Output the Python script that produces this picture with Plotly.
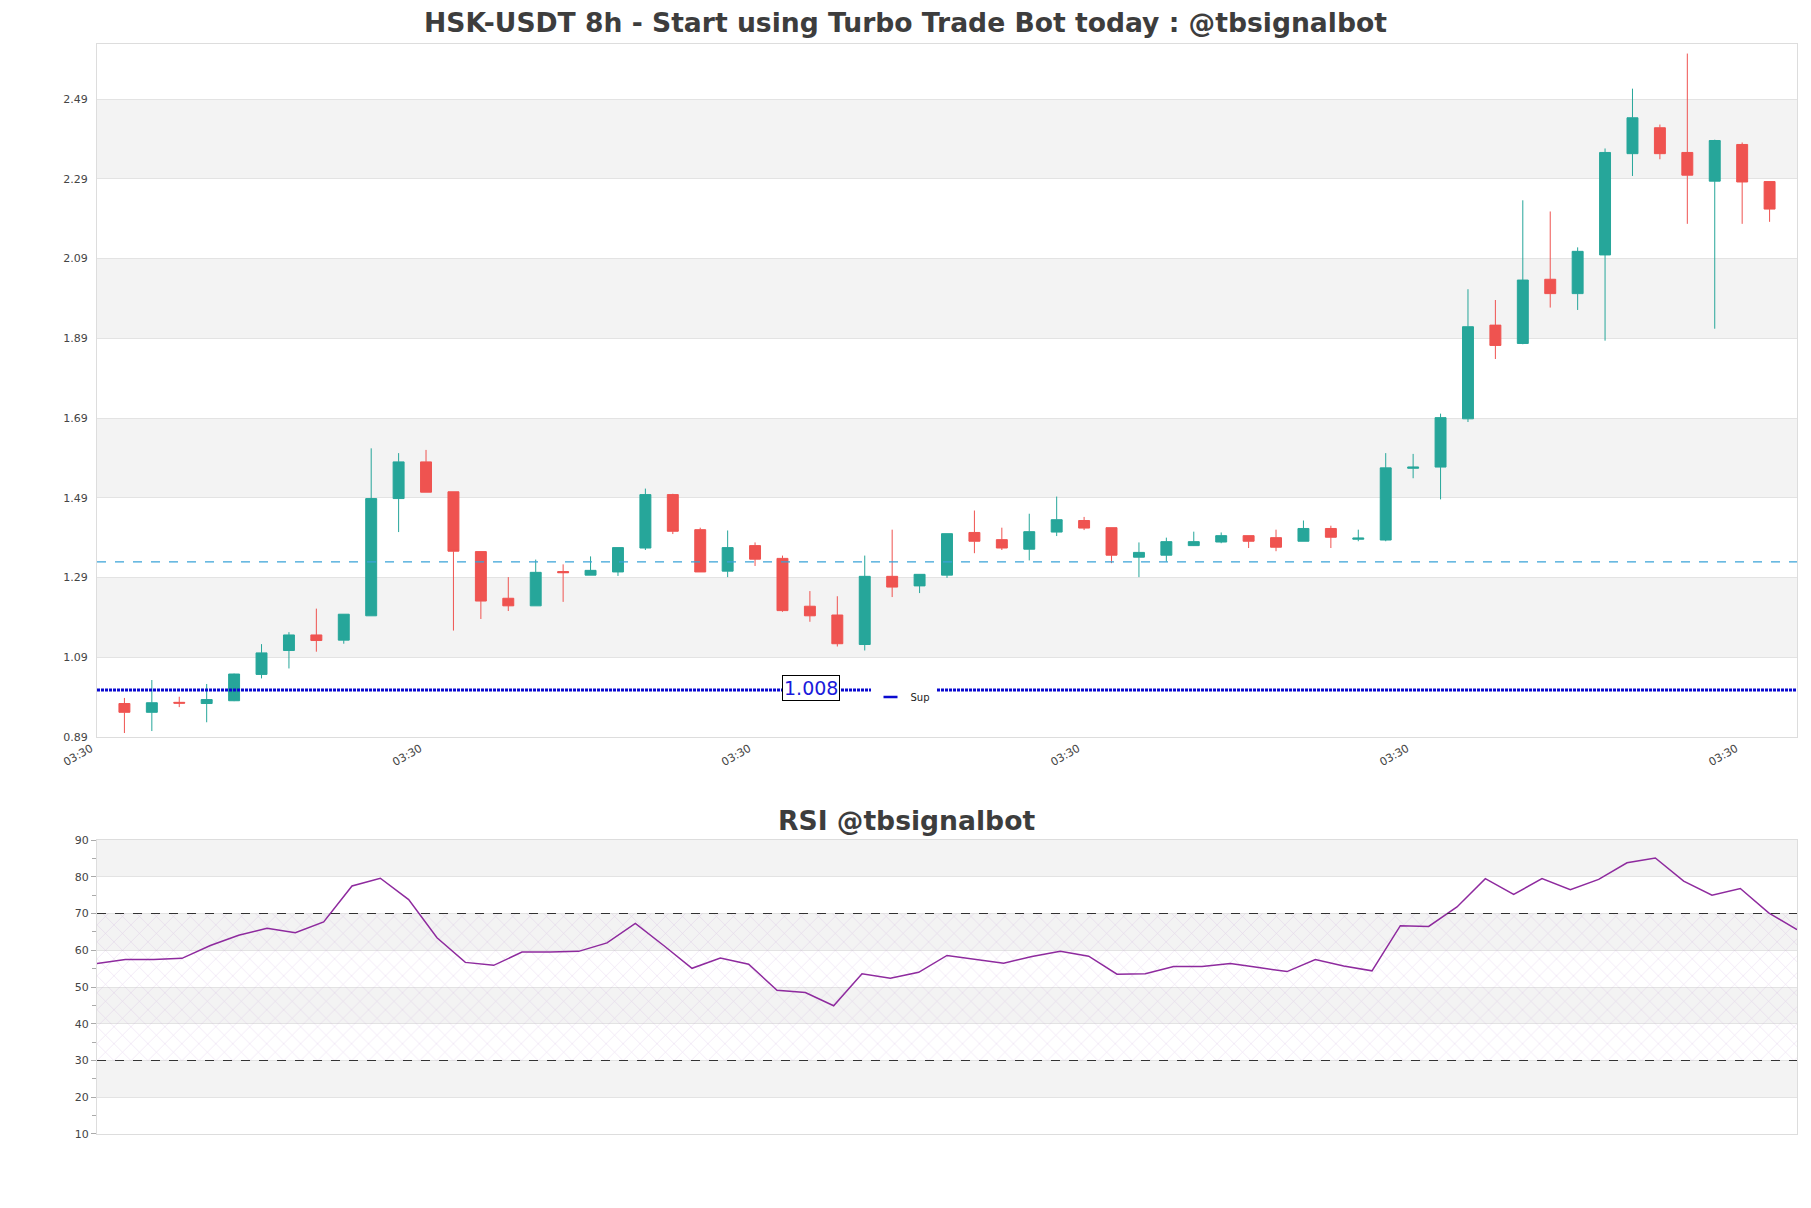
import plotly.graph_objects as go
from datetime import datetime, timedelta

# ---------------- data ----------------
start = datetime(2025, 1, 10, 11, 30)
step = timedelta(hours=8)

opens = [0.974, 0.952, 0.977, 0.974, 0.981, 1.047, 1.107, 1.146, 1.133, 1.194,
         1.488, 1.580, 1.505, 1.355, 1.238, 1.219, 1.305, 1.296, 1.304, 1.364,
         1.498, 1.410, 1.306, 1.370, 1.338, 1.218, 1.196, 1.122, 1.293, 1.269,
         1.296, 1.403, 1.385, 1.361, 1.404, 1.433, 1.415, 1.341, 1.346, 1.370,
         1.379, 1.395, 1.390, 1.381, 1.413, 1.386, 1.384, 1.564, 1.567, 1.688,
         1.923, 1.877, 2.038, 2.002, 2.099, 2.353, 2.418, 2.356, 2.284, 2.376,
         2.283]
highs = [0.988, 1.033, 0.991, 1.023, 1.049, 1.123, 1.153, 1.212, 1.198, 1.614,
         1.602, 1.610, 1.505, 1.355, 1.291, 1.335, 1.323, 1.343, 1.365, 1.513,
         1.500, 1.415, 1.408, 1.378, 1.345, 1.256, 1.243, 1.345, 1.410, 1.298,
         1.400, 1.458, 1.415, 1.450, 1.493, 1.442, 1.415, 1.378, 1.390, 1.405,
         1.403, 1.395, 1.410, 1.433, 1.420, 1.410, 1.602, 1.600, 1.701, 2.013,
         1.986, 2.236, 2.208, 2.118, 2.366, 2.516, 2.426, 2.604, 2.388, 2.381,
         2.283]
lows = [0.900, 0.905, 0.965, 0.927, 0.980, 1.037, 1.062, 1.104, 1.124, 1.194,
        1.404, 1.504, 1.157, 1.186, 1.206, 1.219, 1.229, 1.296, 1.294, 1.359,
        1.399, 1.304, 1.291, 1.319, 1.204, 1.179, 1.117, 1.107, 1.241, 1.251,
        1.289, 1.351, 1.359, 1.333, 1.394, 1.409, 1.326, 1.291, 1.330, 1.369,
        1.376, 1.364, 1.356, 1.381, 1.364, 1.381, 1.381, 1.539, 1.486, 1.680,
        1.838, 1.875, 1.967, 1.961, 1.884, 2.297, 2.339, 2.177, 1.914, 2.177,
        2.182]
closes = [0.952, 0.976, 0.975, 0.984, 1.048, 1.101, 1.146, 1.132, 1.198, 1.488,
          1.580, 1.504, 1.356, 1.231, 1.219, 1.303, 1.302, 1.308, 1.365, 1.498,
          1.406, 1.304, 1.365, 1.336, 1.207, 1.194, 1.124, 1.293, 1.266, 1.298,
          1.400, 1.381, 1.364, 1.405, 1.435, 1.414, 1.346, 1.353, 1.380, 1.380,
          1.395, 1.381, 1.366, 1.413, 1.391, 1.389, 1.565, 1.567, 1.691, 1.919,
          1.872, 2.036, 2.002, 2.108, 2.356, 2.443, 2.353, 2.299, 2.386, 2.282,
          2.214]
rsi = [56.4, 57.5, 57.5, 57.8, 61.3, 64.1, 66.0, 64.8, 67.7, 77.5,
       79.6, 73.8, 63.4, 56.7, 55.9, 59.5, 59.5, 59.7, 62.0, 67.3,
       61.3, 55.1, 57.9, 56.2, 49.1, 48.5, 44.9, 53.6, 52.4, 54.0,
       58.6, 57.5, 56.5, 58.3, 59.7, 58.4, 53.5, 53.6, 55.6, 55.6,
       56.4, 55.3, 54.2, 57.5, 55.7, 54.4, 66.7, 66.5, 71.8, 79.5,
       75.2, 79.5, 76.5, 79.3, 83.8, 85.1, 78.8, 75.0, 76.8, 70.2,
       65.6]

price_ticks = [0.89, 1.09, 1.29, 1.49, 1.69, 1.89, 2.09, 2.29, 2.49]
price_bands = [(1.09, 1.29), (1.49, 1.69), (1.89, 2.09), (2.29, 2.49)]
rsi_bands = [(20, 30), (40, 50), (60, 70), (80, 90)]
SUP = 1.008
LEVEL = 1.329
RSI_HI, RSI_LO = 70, 30

dates = [start + step * i for i in range(len(opens))]
x_lo = dates[0] - step
x_hi = dates[-1] + step
xticks = [x_lo + timedelta(days=4 * k) for k in range(6)]

GREEN = "#26a69a"
RED = "#ef5350"
FONT = "DejaVu Sans"
TXT = "#444444"
SUPC = "#0a0ad0"

fig = go.Figure()

fig.add_trace(go.Candlestick(
    x=dates, open=opens, high=highs, low=lows, close=closes,
    increasing=dict(line=dict(color=GREEN, width=1), fillcolor=GREEN),
    decreasing=dict(line=dict(color=RED, width=1), fillcolor=RED),
    whiskerwidth=0, showlegend=False, xaxis="x", yaxis="y", hoverinfo="skip"))

# support line
fig.add_trace(go.Scatter(x=[x_lo, x_hi], y=[SUP, SUP], mode="lines",
                         line=dict(color=SUPC, width=3, dash="3px,1px"),
                         showlegend=False, xaxis="x", yaxis="y", hoverinfo="skip"))
fig.add_trace(go.Scatter(x=[None], y=[None], mode="markers", name="Sup",
                         marker=dict(symbol="line-ew-open", size=10, color=SUPC,
                                     line=dict(color=SUPC, width=2.5)),
                         showlegend=True, xaxis="x", yaxis="y"))

# RSI hatch zone
fig.add_trace(go.Scatter(x=[dates[0], dates[-1]], y=[RSI_LO, RSI_LO], mode="lines",
                         line=dict(width=0, color="rgba(0,0,0,0)"), showlegend=False,
                         xaxis="x2", yaxis="y2", hoverinfo="skip"))
fig.add_trace(go.Scatter(x=[dates[0], dates[-1]], y=[RSI_HI, RSI_HI], mode="lines",
                         line=dict(width=0, color="rgba(0,0,0,0)"), fill="tonexty",
                         fillcolor="rgba(200,160,215,0.10)",
                         fillpattern=dict(shape="x", fgcolor="rgba(175,125,200,0.5)",
                                          bgcolor="rgba(0,0,0,0)", size=12, solidity=0.1),
                         showlegend=False, xaxis="x2", yaxis="y2", hoverinfo="skip"))
fig.add_trace(go.Scatter(x=dates, y=rsi, mode="lines",
                         line=dict(color="#8e2a9e", width=1.5),
                         showlegend=False, xaxis="x2", yaxis="y2"))

shapes = []
for a, b in price_bands:
    shapes.append(dict(type="rect", xref="x domain", yref="y", x0=0, x1=1, y0=a, y1=b,
                       fillcolor="#f3f3f3", line=dict(width=0), layer="below"))
for a, b in rsi_bands:
    shapes.append(dict(type="rect", xref="x2 domain", yref="y2", x0=0, x1=1, y0=a, y1=b,
                       fillcolor="#f3f3f3", line=dict(width=0), layer="below"))
shapes.append(dict(type="line", xref="x domain", yref="y", x0=0, x1=1, y0=LEVEL, y1=LEVEL,
                   line=dict(color="#3aa3d8", width=1.3, dash="dash")))
for lv in (RSI_HI, RSI_LO):
    shapes.append(dict(type="line", xref="x2 domain", yref="y2", x0=0, x1=1, y0=lv, y1=lv,
                       line=dict(color="#333333", width=1.2, dash="dash")))

axis_common = dict(showline=True, linecolor="#dddddd", linewidth=1, mirror=True,
                   zeroline=False, tickfont=dict(family=FONT, size=11, color=TXT))

W, H = 1795, 1192
L, R, T, B = 89, 6, 36, 66

fig.update_layout(
    width=W, height=H,
    margin=dict(l=L, r=R, t=T, b=B),
    paper_bgcolor="white", plot_bgcolor="white",
    boxgap=0.43,
    title=dict(text="<b>HSK-USDT 8h - Start using Turbo Trade Bot today : @tbsignalbot</b>",
               x=0.5, xref="container", xanchor="center",
               y=1 - 15 / H, yref="container", yanchor="middle",
               font=dict(family=FONT, size=26.6, color="#3d3d3d")),
    xaxis=dict(type="date", domain=[0, 1], anchor="y", range=[x_lo, x_hi],
               tickvals=xticks, tickformat="%H:%M", tickangle=-30, showgrid=False,
               rangeslider=dict(visible=False), ticks="", ticklabelshift=-6,
               **axis_common),
    yaxis=dict(domain=[0.3642, 1], anchor="x", range=[0.89, 2.628],
               tickvals=price_ticks, ticktext=[f"{v:.2f}" for v in price_ticks],
               showgrid=True, gridcolor="#e3e3e3", ticks="", ticklabelstandoff=6,
               **axis_common),
    xaxis2=dict(type="date", domain=[0, 1], anchor="y2", range=[dates[0], dates[-1]],
                showticklabels=False, showgrid=False, ticks="", **axis_common),
    yaxis2=dict(domain=[0, 0.2697], anchor="x2", range=[10, 90], tick0=10, dtick=10,
                showgrid=True, gridcolor="#e3e3e3", ticks="outside", ticklen=5,
                tickcolor="#aaaaaa",
                minor=dict(dtick=5, tick0=5, ticks="outside", ticklen=4, tickcolor="#aaaaaa",
                           showgrid=False),
                **axis_common),
    shapes=shapes,
    showlegend=True,
    legend=dict(x=0.455, y=0.401, xanchor="left", yanchor="middle",
                bgcolor="white", borderwidth=0, itemwidth=30,
                font=dict(family=FONT, size=10, color="#222")),
    annotations=[
        dict(text="1.008", xref="x domain", yref="y", x=0.42, y=SUP, yshift=2,
             showarrow=False, font=dict(family=FONT, size=19, color="#1a1adb"),
             bgcolor="white", bordercolor="black", borderwidth=1, borderpad=1),
        dict(text="<b>RSI @tbsignalbot</b>", xref="paper", yref="paper", x=0.4759,
             y=(1126 - 812) / 1090, xanchor="center", yanchor="middle", showarrow=False,
             font=dict(family=FONT, size=26.6, color="#3d3d3d")),
    ],
)

fig.write_html("out.html")
